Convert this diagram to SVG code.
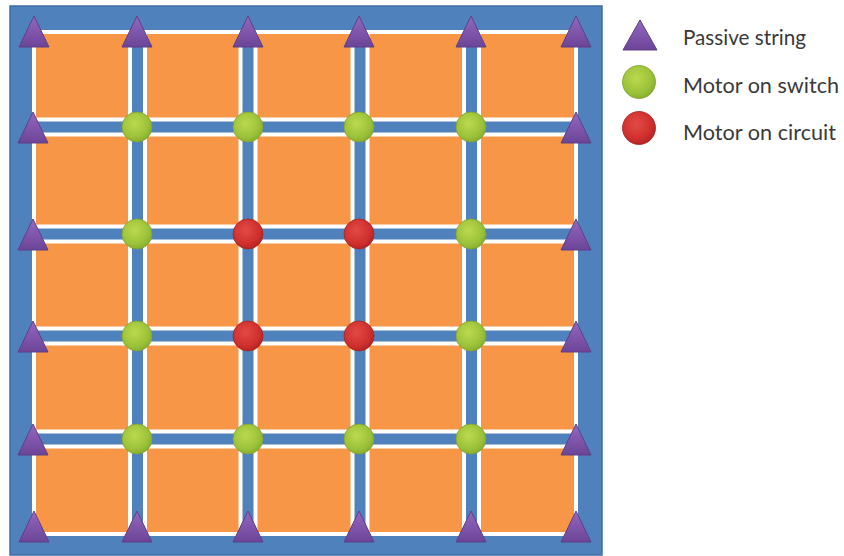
<svg xmlns="http://www.w3.org/2000/svg" xmlns:xlink="http://www.w3.org/1999/xlink" width="844" height="556" viewBox="0 0 844 556">
<style>
.bg{fill:#4F81BD;stroke:#3F6EA6;stroke-width:1.5}
.cell{fill:#F79646;stroke:#FFFFFF;stroke-width:4}
.tri{fill:url(#gPurple);stroke:#5E3F86;stroke-width:1}
.sw{fill:url(#gGreen);stroke:#7FA22E;stroke-width:0.8}
.ci{fill:url(#gRed);stroke:#A52424;stroke-width:0.8}
.lbl{font-family:Lato,"Liberation Sans",sans-serif;font-size:21px;fill:#3A3A3A}
</style>
<defs>
<linearGradient id="gPurple" x1="0" y1="0" x2="0" y2="1">
<stop offset="0" stop-color="#9468C0"/>
<stop offset="1" stop-color="#6B4497"/>
</linearGradient>
<radialGradient id="gGreen" cx="0.42" cy="0.38" r="0.65">
<stop offset="0" stop-color="#BCD94E"/>
<stop offset="0.7" stop-color="#9BC23A"/>
<stop offset="1" stop-color="#86AC2C"/>
</radialGradient>
<radialGradient id="gRed" cx="0.42" cy="0.38" r="0.65">
<stop offset="0" stop-color="#E24A46"/>
<stop offset="0.7" stop-color="#CF2F2D"/>
<stop offset="1" stop-color="#B02222"/>
</radialGradient>
<path id="triShape" d="M0,-16 L15,15 L-15,15 Z"/>
</defs>

<rect class="bg" x="10" y="6" width="592" height="549"/>

<g id="strings">
<rect class="cell" x="34" y="32" width="96" height="87.5"/>
<rect class="cell" x="145" y="32" width="95.5" height="87.5"/>
<rect class="cell" x="255.5" y="32" width="97" height="87.5"/>
<rect class="cell" x="367.5" y="32" width="96.5" height="87.5"/>
<rect class="cell" x="479" y="32" width="97" height="87.5"/>

<rect class="cell" x="34" y="134.5" width="96" height="92"/>
<rect class="cell" x="145" y="134.5" width="95.5" height="92"/>
<rect class="cell" x="255.5" y="134.5" width="97" height="92"/>
<rect class="cell" x="367.5" y="134.5" width="96.5" height="92"/>
<rect class="cell" x="479" y="134.5" width="97" height="92"/>

<rect class="cell" x="34" y="241.5" width="96" height="87"/>
<rect class="cell" x="145" y="241.5" width="95.5" height="87"/>
<rect class="cell" x="255.5" y="241.5" width="97" height="87"/>
<rect class="cell" x="367.5" y="241.5" width="96.5" height="87"/>
<rect class="cell" x="479" y="241.5" width="97" height="87"/>

<rect class="cell" x="34" y="343.5" width="96" height="88"/>
<rect class="cell" x="145" y="343.5" width="95.5" height="88"/>
<rect class="cell" x="255.5" y="343.5" width="97" height="88"/>
<rect class="cell" x="367.5" y="343.5" width="96.5" height="88"/>
<rect class="cell" x="479" y="343.5" width="97" height="88"/>

<rect class="cell" x="34" y="446.5" width="96" height="87.5"/>
<rect class="cell" x="145" y="446.5" width="95.5" height="87.5"/>
<rect class="cell" x="255.5" y="446.5" width="97" height="87.5"/>
<rect class="cell" x="367.5" y="446.5" width="96.5" height="87.5"/>
<rect class="cell" x="479" y="446.5" width="97" height="87.5"/>
</g>

<g id="passive-top">
<use class="tri" xlink:href="#triShape" href="#triShape" x="34" y="32"/>
<use class="tri" xlink:href="#triShape" href="#triShape" x="137" y="32"/>
<use class="tri" xlink:href="#triShape" href="#triShape" x="248" y="32"/>
<use class="tri" xlink:href="#triShape" href="#triShape" x="359" y="32"/>
<use class="tri" xlink:href="#triShape" href="#triShape" x="471" y="32"/>
<use class="tri" xlink:href="#triShape" href="#triShape" x="576" y="32"/>
</g>
<g id="passive-bottom">
<use class="tri" xlink:href="#triShape" href="#triShape" x="34" y="527"/>
<use class="tri" xlink:href="#triShape" href="#triShape" x="137" y="527"/>
<use class="tri" xlink:href="#triShape" href="#triShape" x="248" y="527"/>
<use class="tri" xlink:href="#triShape" href="#triShape" x="359" y="527"/>
<use class="tri" xlink:href="#triShape" href="#triShape" x="471" y="527"/>
<use class="tri" xlink:href="#triShape" href="#triShape" x="576" y="527"/>
</g>
<g id="passive-left">
<use class="tri" xlink:href="#triShape" href="#triShape" x="33" y="128"/>
<use class="tri" xlink:href="#triShape" href="#triShape" x="33" y="235"/>
<use class="tri" xlink:href="#triShape" href="#triShape" x="33" y="337"/>
<use class="tri" xlink:href="#triShape" href="#triShape" x="33" y="440"/>
</g>
<g id="passive-right">
<use class="tri" xlink:href="#triShape" href="#triShape" x="576" y="128"/>
<use class="tri" xlink:href="#triShape" href="#triShape" x="576" y="235"/>
<use class="tri" xlink:href="#triShape" href="#triShape" x="576" y="337"/>
<use class="tri" xlink:href="#triShape" href="#triShape" x="576" y="440"/>
</g>

<g id="motors-row1">
<circle class="sw" cx="137" cy="127" r="15"/>
<circle class="sw" cx="248" cy="127" r="15"/>
<circle class="sw" cx="359" cy="127" r="15"/>
<circle class="sw" cx="471" cy="127" r="15"/>
</g>
<g id="motors-row2">
<circle class="sw" cx="137" cy="234" r="15"/>
<circle class="ci" cx="248" cy="234" r="15"/>
<circle class="ci" cx="359" cy="234" r="15"/>
<circle class="sw" cx="471" cy="234" r="15"/>
</g>
<g id="motors-row3">
<circle class="sw" cx="137" cy="336" r="15"/>
<circle class="ci" cx="248" cy="336" r="15"/>
<circle class="ci" cx="359" cy="336" r="15"/>
<circle class="sw" cx="471" cy="336" r="15"/>
</g>
<g id="motors-row4">
<circle class="sw" cx="137" cy="439" r="15"/>
<circle class="sw" cx="248" cy="439" r="15"/>
<circle class="sw" cx="359" cy="439" r="15"/>
<circle class="sw" cx="471" cy="439" r="15"/>
</g>

<g id="legend-passive">
<path class="tri" d="M640,20 L657,50 L623,50 Z"/>
<text class="lbl" x="683" y="45" textLength="123" lengthAdjust="spacingAndGlyphs">Passive string</text>
</g>
<g id="legend-switch">
<circle class="sw" cx="639" cy="82" r="16.5"/>
<text class="lbl" x="683" y="93" textLength="156" lengthAdjust="spacingAndGlyphs">Motor on switch</text>
</g>
<g id="legend-circuit">
<circle class="ci" cx="639" cy="128" r="16.5"/>
<text class="lbl" x="683" y="140" textLength="153" lengthAdjust="spacingAndGlyphs">Motor on circuit</text>
</g>
</svg>
